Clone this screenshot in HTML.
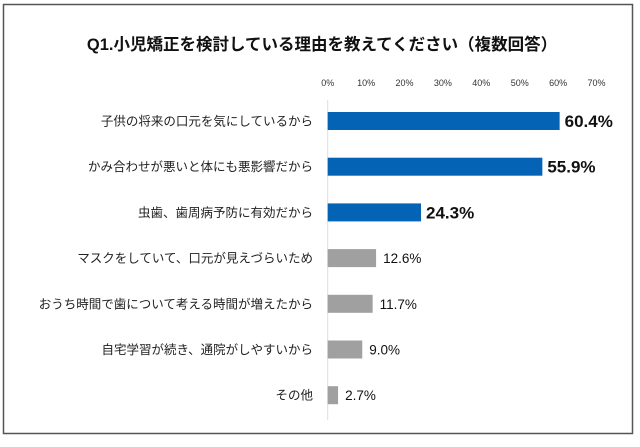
<!DOCTYPE html>
<html><head><meta charset="utf-8"><style>
body{margin:0;background:#fff;width:640px;height:442px;overflow:hidden}
svg text{font-family:"Liberation Sans","Noto Sans CJK JP",sans-serif}
</style></head><body>
<svg width="640" height="442">
<rect x="3.5" y="4.5" width="629" height="429" fill="#fff" stroke="#555" stroke-width="1.5"/>
<text x="322" y="50" text-anchor="middle" font-size="16.5" font-weight="bold" fill="#111">Q1.小児矯正を検討している理由を教えてください（複数回答）</text>
<g id="ticks"></g><g id="bars"></g>
</svg>
<script>
const categories=["子供の将来の口元を気にしているから","かみ合わせが悪いと体にも悪影響だから","虫歯、歯周病予防に有効だから","マスクをしていて、口元が見えづらいため","おうち時間で歯について考える時間が増えたから","自宅学習が続き、通院がしやすいから","その他"];
const values=[60.4,55.9,24.3,12.6,11.7,9.0,2.7];
const highlight=[true,true,true,false,false,false,false];
const tickValues=[0,10,20,30,40,50,60,70];
const ns="http://www.w3.org/2000/svg";
const x0=327.7,pxPer=3.84,yFirst=121,yStep=45.7,barH=18;
const xs=v=>x0+v*pxPer, ys=i=>yFirst+i*yStep;
function mk(t,a,p){const e=document.createElementNS(ns,t);for(const k in a)e.setAttribute(k,a[k]);p.appendChild(e);return e;}
const tg=document.getElementById('ticks'),bg=document.getElementById('bars');
tickValues.forEach(v=>{const t=mk('text',{x:xs(v),y:86,'text-anchor':'middle','font-size':9,fill:'#333'},tg);


t.textContent=v+'%';});
const ax=mk('line',{x1:x0,x2:x0,y1:100,y2:420,stroke:'#ddd','stroke-width':1},tg);


categories.forEach((c,i)=>{const y=ys(i);
const l=mk('text',{x:313,y:y+4.5,'text-anchor':'end','font-size':12.5,fill:'#222'},bg);


l.textContent=c;
const r=mk('rect',{x:x0,y:y-barH/2,width:values[i]*pxPer,height:barH,fill:highlight[i]?'#0563b5':'#a0a0a0'},bg);


const v=mk('text',{x:xs(values[i])+(highlight[i]?5:7),y:y+(highlight[i]?6:5),'font-size':highlight[i]?17:13.5,'font-weight':highlight[i]?'bold':'normal',fill:'#111'},bg);


v.textContent=values[i].toFixed(1)+'%';});
</script>
</body></html>
